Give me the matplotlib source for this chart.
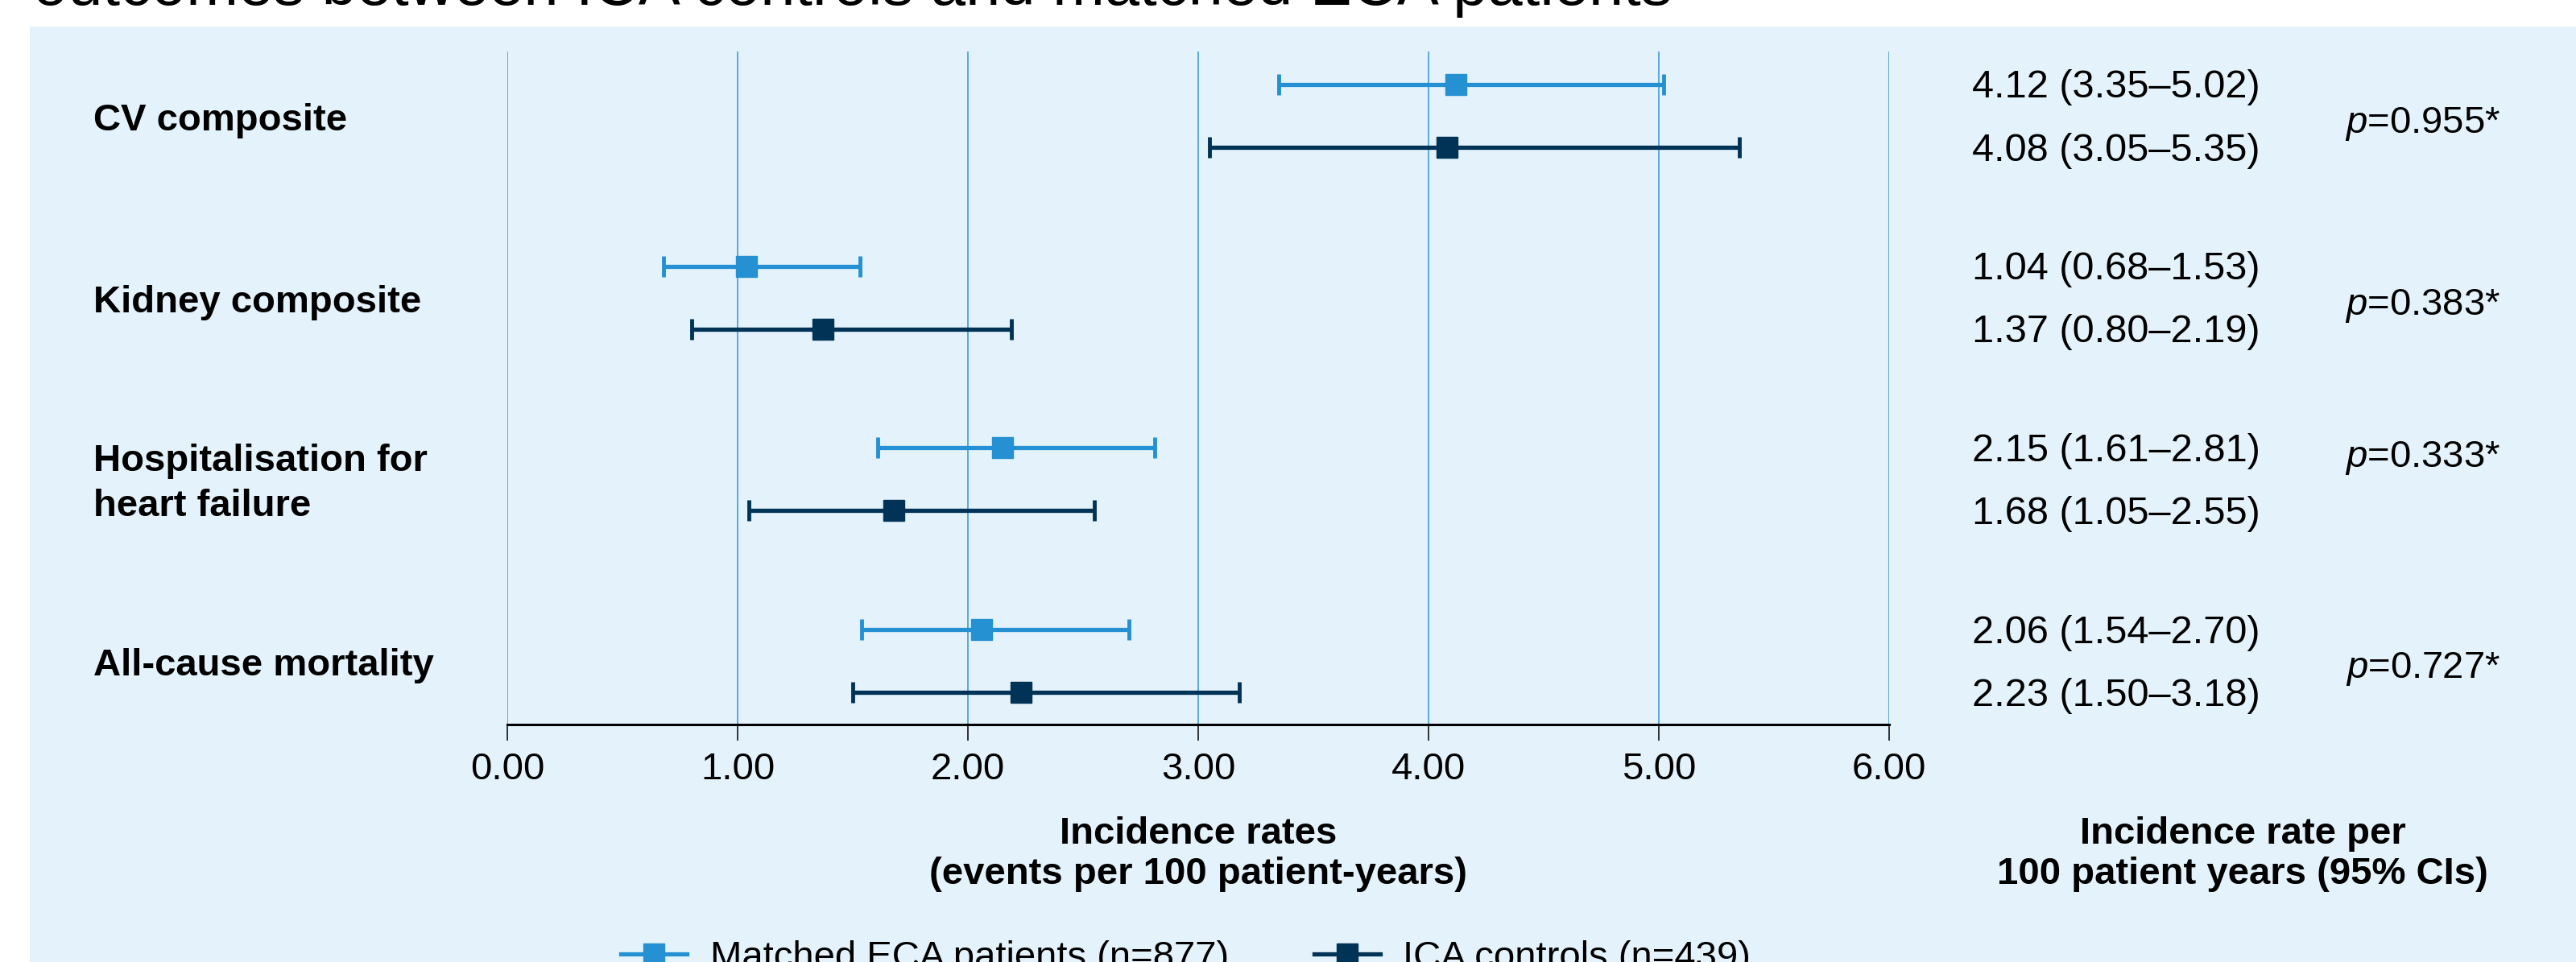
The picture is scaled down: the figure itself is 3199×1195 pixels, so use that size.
import numpy as np
import matplotlib
matplotlib.use("Agg")
import matplotlib.pyplot as plt
import matplotlib.transforms as mtransforms
from matplotlib.patches import Rectangle
from matplotlib.lines import Line2D

plt.rcParams['font.family'] = ['Liberation Sans', 'DejaVu Sans']
plt.rcParams['mathtext.fontset'] = 'custom'
plt.rcParams['mathtext.rm'] = 'Liberation Sans'
plt.rcParams['mathtext.it'] = 'Liberation Sans:italic'

# data
outcomes = ['CV composite', 'Kidney composite', 'Hospitalisation for\nheart failure', 'All-cause mortality']
eca_rate = [4.12, 1.04, 2.15, 2.06]
eca_lo = [3.35, 0.68, 1.61, 1.54]
eca_hi = [5.02, 1.53, 2.81, 2.70]
ica_rate = [4.08, 1.37, 1.68, 2.23]
ica_lo = [3.05, 0.80, 1.05, 1.50]
ica_hi = [5.35, 2.19, 2.55, 3.18]
p_values = ['0.955', '0.383', '0.333', '0.727']
xticks = [0, 1, 2, 3, 4, 5, 6]
eca_label = 'Matched ECA patients (n=877)'
ica_label = 'ICA controls (n=439)'
title = 'outcomes between ICA controls and matched ECA patients'

eca_col = '#2590d2'
ica_col = '#003356'
bg = '#e4f3fb'
grid_col = '#4aa3dc'

W, H = 3199, 1195
fig = plt.figure(figsize=(W / 100, H / 100), dpi=100)

# light panel behind everything
fig.patches.append(Rectangle((37 / W, 0), 1, 1 - 33 / H, transform=fig.transFigure,
                             facecolor=bg, edgecolor='none', zorder=-5))

fig.text(41 / W, 1 - 6 / H, title, fontsize=56, va='baseline', ha='left')

# axes in pixel layout
x0, x1, ytop, ybot = 630, 2346, 64, 900
ax = fig.add_axes([x0 / W, 1 - ybot / H, (x1 - x0) / W, (ybot - ytop) / H])
ax.set_facecolor('none')
ax.set_zorder(2)

rows = np.arange(len(outcomes))
off = 0.173
eca_y = rows - off
ica_y = rows + off

ea = np.array(eca_rate)
ia = np.array(ica_rate)
ax.errorbar(ea, eca_y, xerr=[ea - np.array(eca_lo), np.array(eca_hi) - ea], fmt='s',
            color=eca_col, ms=19, elinewidth=3.8, capsize=9.7, capthick=3.5, zorder=3)
ax.errorbar(ia, ica_y, xerr=[ia - np.array(ica_lo), np.array(ica_hi) - ia], fmt='s',
            color=ica_col, ms=19, elinewidth=3.8, capsize=9.7, capthick=3.5, zorder=3)

ax.set_xlim(0, 6)
ax.set_ylim(3.35, -0.354)
ax.set_xticks(xticks)
ax.set_xticklabels([f'{t:.2f}' for t in xticks], fontsize=34)
ax.set_yticks([])
for t in xticks:
    ax.axvline(t, color=grid_col, lw=1.3, zorder=1)
for s in ['top', 'right', 'left']:
    ax.spines[s].set_visible(False)
ax.spines['bottom'].set_linewidth(2.2)
ax.spines['bottom'].set_color('black')
ax.tick_params(axis='x', direction='out', length=14.5, width=1.1, pad=10, colors='black')

# row labels and numbers
tr = mtransforms.blended_transform_factory(fig.transFigure, ax.transData)
p_shift = [0.045, 0.045, -0.115, 0.045]
for i, name in enumerate(outcomes):
    ax.text(116 / W, rows[i] + 0.027, name, transform=tr, fontsize=34, fontweight='bold',
            ha='left', va='center', linespacing=1.35)
    ax.text(2449 / W, eca_y[i] + 0.018, f'{eca_rate[i]:.2f} ({eca_lo[i]:.2f}\u2013{eca_hi[i]:.2f})',
            transform=tr, fontsize=35, ha='left', va='center')
    ax.text(2449 / W, ica_y[i] + 0.018, f'{ica_rate[i]:.2f} ({ica_lo[i]:.2f}\u2013{ica_hi[i]:.2f})',
            transform=tr, fontsize=35, ha='left', va='center')
    ax.text(3105 / W, rows[i] + p_shift[i], f'$p$=' + p_values[i] + '*', transform=tr,
            fontsize=34, ha='right', va='center')

fig.text(1488 / W, 1 - 1061 / H, 'Incidence rates\n(events per 100 patient-years)',
         fontsize=34, fontweight='bold', ha='center', va='center', linespacing=1.2)
fig.text(2785 / W, 1 - 1061 / H, 'Incidence rate per\n100 patient years (95% CIs)',
         fontsize=34, fontweight='bold', ha='center', va='center', linespacing=1.2)

handles = [Line2D([], [], color=eca_col, marker='s', ms=19, lw=3.8),
           Line2D([], [], color=ica_col, marker='s', ms=19, lw=3.8)]
fig.legend(handles, [eca_label, ica_label], loc='center left',
           bbox_to_anchor=(771 / W, 1 - 1190 / H), ncol=2, frameon=False, fontsize=34,
           handlelength=1.74, handletextpad=0.6, columnspacing=2.25,
           borderpad=0, borderaxespad=0)

fig.savefig('out.png', dpi=100)
